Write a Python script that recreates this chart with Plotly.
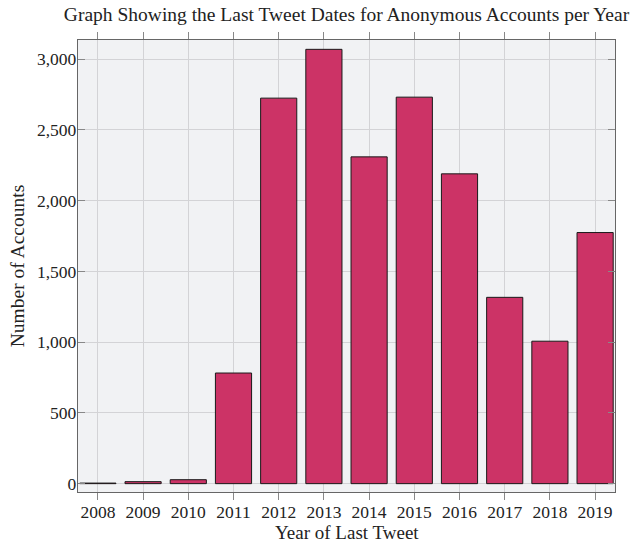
import plotly.graph_objects as go

years = [2008, 2009, 2010, 2011, 2012, 2013, 2014, 2015, 2016, 2017, 2018, 2019]
accounts = [4, 14, 28, 782, 2725, 3070, 2310, 2732, 2190, 1317, 1007, 1775]
y_ticks = [0, 500, 1000, 1500, 2000, 2500, 3000]

FONT = "Liberation Serif"

fig = go.Figure(go.Bar(
    x=years, y=accounts, width=0.8,
    marker=dict(color="#CC3366", line=dict(color="#1a1a1a", width=1)),
    hoverinfo="skip",
))

fig.update_layout(
    width=632, height=541,
    margin=dict(l=78, r=17, t=40, b=49, autoexpand=False),
    plot_bgcolor="#F1F2F4", paper_bgcolor="white",
    font=dict(family=FONT, size=17.5, color="#222"),
    showlegend=False,
    title=dict(text="Graph Showing the Last Tweet Dates for Anonymous Accounts per Year",
               x=0.5, xref="paper", xanchor="center", y=1 - 14 / 541, yref="container",
               yanchor="middle",
               font=dict(family=FONT, size=19.5, color="#222")),
    annotations=[dict(text="Year of Last Tweet", xref="paper", yref="paper",
                      x=0.5, y=-0.089, xanchor="center", yanchor="middle",
                      showarrow=False, font=dict(family=FONT, size=19, color="#222"))],
)
fig.update_xaxes(
    range=[2007.56, 2019.44], tickmode="array", tickvals=years,
    ticktext=[str(y) for y in years],
    showgrid=True, gridcolor="#D3D3D6", gridwidth=1,
    showline=True, linecolor="#666", linewidth=1.3, mirror="ticks",
    ticks="outside", ticklen=7, tickcolor="#888",
    ticklabelstandoff=-3,
    tickfont=dict(size=17.5), zeroline=False, automargin=False,
)
fig.update_yaxes(
    range=[-59, 3136], tickmode="array", tickvals=y_ticks,
    tickformat=",d",
    showgrid=True, gridcolor="#D3D3D6", gridwidth=1,
    showline=True, linecolor="#666", linewidth=1.3, mirror="ticks",
    ticks="inside", ticklen=7, tickcolor="#888",
    ticklabelstandoff=-3,
    title=dict(text="Number of Accounts", standoff=7, font=dict(size=19.5)),
    tickfont=dict(size=17.5), zeroline=False, automargin=False,
)

fig.write_html(
    "out.html",
    config={"displayModeBar": False},
    post_script="document.body.style.margin='0';document.body.style.overflow='hidden';",
)
